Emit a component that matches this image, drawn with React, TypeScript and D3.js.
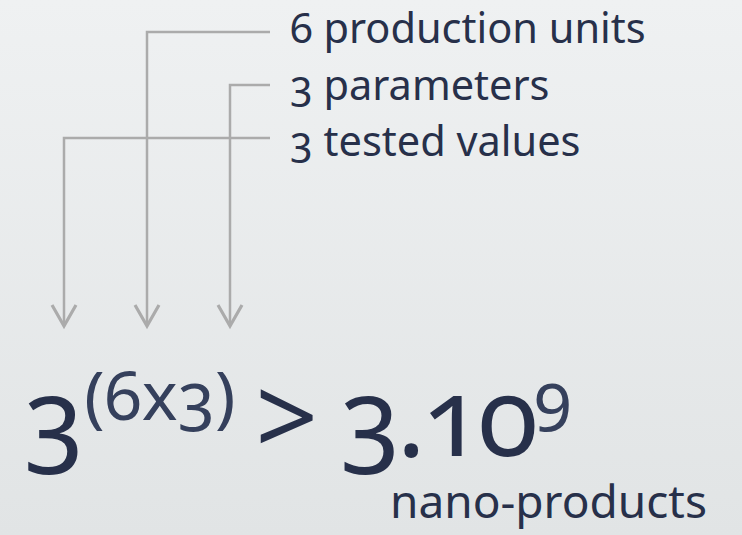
import { useEffect } from "react";
import * as d3 from "d3";

const labels = ["6 production units", "3 parameters", "3 tested values"];
const arrowOrder = ["3 tested values", "6 production units", "3 parameters"];
const base = "3";
const exponent = "(6x3)";
const relation = ">";
const mantissa = "3.10";
const power = "9";
const unit = "nano-products";

export default function App() {
  const width = 742;
  const height = 535;

  useEffect(() => {
    document.body.style.margin = "0";
    const root = d3.select("#diagram");
    root.selectAll("*").remove();
    const svg = root
      .append("svg")
      .attr("width", width)
      .attr("height", height)
      .style("display", "block");

    const grad = svg
      .append("defs")
      .append("linearGradient")
      .attr("id", "bg")
      .attr("x1", 0)
      .attr("y1", 0)
      .attr("x2", 0)
      .attr("y2", 1);
    grad.append("stop").attr("offset", 0).attr("stop-color", "#eff1f2");
    grad.append("stop").attr("offset", 1).attr("stop-color", "#e1e4e5");
    svg.append("rect").attr("width", width).attr("height", height).attr("fill", "url(#bg)");

    const font = "'Noto Sans', sans-serif";
    const ink = "#27304a";
    const grey = "#ababab";

    const row = d3.scalePoint<string>().domain(labels).range([32, 138]);
    const baseline = d3.scalePoint<string>().domain(labels).range([43, 156]);
    const col = d3.scalePoint<string>().domain(arrowOrder).range([64, 230]);
    const lineEnd = 270;
    const tipY = 326;
    const textX = 290;

    const g = svg.append("g");
    labels.forEach((l) => {
      const x = col(l)!;
      const y = row(l)!;
      g.append("path")
        .attr("d", `M${lineEnd},${y}H${x}V${tipY}`)
        .attr("fill", "none")
        .attr("stroke", grey)
        .attr("stroke-width", 2.5);
      g.append("path")
        .attr("d", `M${x - 12},${tipY - 21}L${x},${tipY}L${x + 12},${tipY - 21}`)
        .attr("fill", "none")
        .attr("stroke", grey)
        .attr("stroke-width", 3.2);
    });

    svg
      .selectAll("text.label")
      .data(labels)
      .enter()
      .append("text")
      .attr("class", "label")
      .attr("x", textX)
      .attr("y", (d) => baseline(d)!)
      .attr("font-family", font)
      .attr("font-size", 41.5)
      .style("font-variant-numeric", "oldstyle-nums")
      .attr("fill", ink)
      .text((d) => d);

    const f = svg
      .append("text")
      .attr("x", 24)
      .attr("y", 456)
      .attr("font-family", font)
      .style("font-variant-numeric", "oldstyle-nums")
      .attr("fill", ink);
    f.append("tspan").attr("font-size", 110).text(base);
    f.append("tspan").attr("font-size", 68).attr("dy", -36).attr("fill", "#35405c").text(exponent);
    f.append("tspan").attr("font-size", 110).attr("dy", 36).attr("dx", 20).text(relation);
    f.append("tspan")
      .attr("font-size", 110)
      .attr("dx", 22)
      .attr("letter-spacing", -4)
      .text(mantissa);
    f.append("tspan").attr("font-size", 68).attr("dy", -36).attr("fill", "#35405c").text(power);

    svg
      .append("text")
      .attr("x", 390)
      .attr("y", 518)
      .attr("font-family", font)
      .attr("font-size", 46)
      .attr("fill", ink)
      .text(unit);
  }, []);

  return <div id="diagram"></div>;
}
